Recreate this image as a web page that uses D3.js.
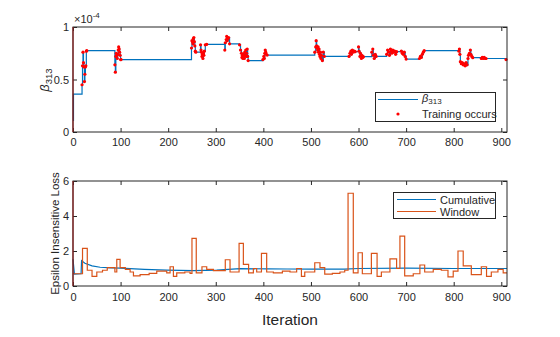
<!DOCTYPE html>
<html lang="en">
<head>
<meta charset="UTF-8">
<title>beta313 and loss</title>
<script src="https://cdn.jsdelivr.net/npm/d3@7"></script>
<style>
  body { margin: 0; background: #fff; }
  svg text { font-family: "Liberation Sans", Arial, sans-serif; fill: #262626; }
</style>
</head>
<body>
<svg width="560" height="337"></svg>
<script>
// beta_313 values (x1e-4) at each training event
const trainIter = [19,20,21,22,23,24,25,26,27,28,29,
  88,89,90,91,92,93,94,95,96,97,98,99,100,101,
  249,250,251,252,253,254,255,256,257,258,
  268,269,270,271,272,273,274,275,276,278,281,
  319,320,322,323,324,326,327,329,
  350,352,354,355,356,357,358,359,360,361,362,363,364,365,366,367,368,
  399,401,402,403,404,405,406,408,
  508,510,511,512,513,514,515,516,517,518,519,520,521,522,524,526,528,
  580,582,584,585,587,589,591,593,
  600,601,603,604,606,607,609,610,
  628,630,631,633,635,637,
  659,661,663,665,667,668,670,672,674,676,678,680,
  690,692,694,696,698,700,
  728,730,732,734,736,738,
  811,812,813,814,816,818,820,822,824,826,828,830,831,833,835,836,838,840,
  858,860,862,864,866,868,
  910];
const trainBeta = [0.45,0.63,0.76,0.66,0.62,0.48,0.55,0.62,0.63,0.77,0.775,
  0.64,0.57,0.72,0.75,0.73,0.70,0.74,0.78,0.81,0.79,0.76,0.73,0.69,0.69,
  0.80,0.87,0.86,0.84,0.89,0.90,0.86,0.82,0.77,0.76,
  0.83,0.78,0.76,0.72,0.74,0.70,0.75,0.73,0.77,0.83,0.835,
  0.78,0.85,0.88,0.91,0.87,0.89,0.90,0.84,
  0.83,0.78,0.75,0.71,0.73,0.70,0.74,0.72,0.70,0.76,0.73,0.78,0.72,0.75,0.79,0.72,0.68,
  0.69,0.72,0.70,0.75,0.78,0.76,0.74,0.733,
  0.76,0.81,0.87,0.82,0.80,0.78,0.81,0.76,0.79,0.74,0.72,0.76,0.70,0.73,0.68,0.76,0.72,
  0.72,0.75,0.77,0.74,0.78,0.76,0.77,0.765,
  0.81,0.77,0.72,0.75,0.70,0.73,0.71,0.717,
  0.76,0.79,0.73,0.70,0.74,0.72,
  0.74,0.78,0.76,0.73,0.79,0.77,0.75,0.78,0.76,0.77,0.74,0.765,
  0.77,0.75,0.74,0.76,0.72,0.695,
  0.70,0.72,0.71,0.74,0.76,0.775,
  0.77,0.79,0.74,0.67,0.65,0.66,0.64,0.65,0.63,0.66,0.64,0.70,0.73,0.75,0.78,0.74,0.72,0.708,
  0.70,0.71,0.70,0.71,0.70,0.70,
  0.69];
// values before the first training event
const startIter = [0, 1];
const startBeta = [0.11, 0.36];

// cumulative loss
const cumIter = [0,3,17,18,25,40,57,80,100,150,197,253,302,351,407,450,500,570,600,700,800,912];
const cumLoss = [1.53,0.68,0.7,1.45,1.3,1.15,1.07,1.04,1.02,0.95,0.91,0.88,0.91,0.99,0.98,0.97,0.97,0.96,1.0,1.02,1.0,1.0];

// windowed loss, level held from each start iteration
const winIter = [0,20,30,40,50,62,72,88,92,99,110,120,127,141,160,176,197,204,211,218,235,246,250,259,271,281,295,320,330,349,358,369,379,386,396,407,421,440,456,470,480,487,508,519,529,545,561,571,578,589,599,608,627,639,648,666,680,687,697,715,729,739,757,774,788,799,809,820,837,858,869,879,893,904,912];
const winLoss = [0.7,2.15,0.9,0.55,0.8,0.9,1.05,0.8,1.52,1.05,0.95,0.8,0.58,0.65,0.72,0.85,0.75,1.1,0.55,0.75,0.8,0.72,2.72,0.75,1.1,0.95,0.88,1.5,0.8,2.44,1.24,0.75,1.0,0.8,1.87,0.8,0.75,0.85,0.8,1.0,0.55,0.8,1.33,1.05,0.68,0.72,0.8,0.9,5.3,0.75,1.9,0.7,1.86,0.55,0.8,1.55,1.0,2.85,0.58,0.7,1.2,0.8,0.95,0.9,0.52,0.85,2.0,1.15,0.65,1.1,0.55,0.8,0.95,0.75,0.75];

const xTicks = [0,100,200,300,400,500,600,700,800,900];
const topTicks = [0, 0.5, 1];
const botTicks = [0, 2, 4, 6];

const blue = "#0072BD", orange = "#D95319", axisCol = "#262626";
const svg = d3.select("svg");

const x = d3.scaleLinear().domain([0, 912]).range([73, 507]);
const yTop = d3.scaleLinear().domain([0, 1]).range([132, 27]);
const yBot = d3.scaleLinear().domain([0, 6]).range([286, 181]);

function panel(y, yTicks, yFmt, pad) {
  const [b, t] = y.range();
  const g = svg.append("g");
  const bottom = g.append("g").attr("transform", `translate(0,${b})`)
    .call(d3.axisBottom(x).tickValues(xTicks).tickSize(-4).tickPadding(pad));
  g.append("g").attr("transform", `translate(0,${t})`)
    .call(d3.axisTop(x).tickValues(xTicks).tickSize(-4).tickFormat(""));
  g.append("g").attr("transform", "translate(73,0)")
    .call(d3.axisLeft(y).tickValues(yTicks).tickSize(-4).tickPadding(4).tickFormat(yFmt));
  g.append("g").attr("transform", "translate(507,0)")
    .call(d3.axisRight(y).tickValues(yTicks).tickSize(-4).tickFormat(""));
  g.selectAll(".domain").remove();
  g.selectAll(".tick line").attr("stroke", axisCol);
  g.selectAll(".tick text").attr("font-size", 11).attr("font-family", null);
  return g;
}

function frame(y) {
  const [b, t] = y.range();
  svg.append("rect").attr("x", 73).attr("y", t).attr("width", 434).attr("height", b - t)
    .attr("fill", "none").attr("stroke", axisCol).attr("stroke-width", 1);
  // red trace along iteration 0
  svg.append("line").attr("x1", 73).attr("x2", 73).attr("y1", t).attr("y2", b)
    .attr("stroke", "#8a1f1f").attr("stroke-width", 1.2);
}

// ---- top panel ----
panel(yTop, topTicks, d => d === 0 ? "0" : d === 1 ? "1" : "0.5", 6);

const betaPts = startIter.map((d, i) => [d, startBeta[i]])
  .concat(trainIter.map((d, i) => [d, trainBeta[i]]));
svg.append("path").datum(betaPts)
  .attr("fill", "none").attr("stroke", blue).attr("stroke-width", 1.2)
  .attr("d", d3.line().x(d => x(d[0])).y(d => yTop(d[1])).curve(d3.curveStepAfter));
svg.append("g").selectAll("circle")
  .data(trainIter.map((d, i) => [d, trainBeta[i]]))
  .join("circle")
  .attr("cx", d => x(d[0])).attr("cy", d => yTop(d[1])).attr("r", 1.6)
  .attr("fill", "#ff0000");
frame(yTop);

const mult = svg.append("text").attr("x", 74).attr("y", 23).attr("font-size", 11);
mult.append("tspan").text("×10");
mult.append("tspan").attr("dy", -5).attr("font-size", 8).text("-4");

const yl1 = svg.append("text").attr("transform", "translate(49,80) rotate(-90)")
  .attr("text-anchor", "middle").attr("font-size", 13);
yl1.append("tspan").attr("font-style", "italic").text("β");
yl1.append("tspan").attr("dy", 3).attr("font-size", 9.5).text("313");

// top legend
const lg1 = svg.append("g");
lg1.append("rect").attr("x", 375.5).attr("y", 92.5).attr("width", 120).attr("height", 29)
  .attr("fill", "#fff").attr("stroke", axisCol);
lg1.append("line").attr("x1", 378).attr("x2", 418).attr("y1", 99.5).attr("y2", 99.5)
  .attr("stroke", blue).attr("stroke-width", 1.2);
const lt1 = lg1.append("text").attr("x", 422).attr("y", 102).attr("font-size", 11);
lt1.append("tspan").attr("font-style", "italic").text("β");
lt1.append("tspan").attr("dy", 2).attr("font-size", 8).text("313");
lg1.append("circle").attr("cx", 398).attr("cy", 114).attr("r", 1.6).attr("fill", "#ff0000");
lg1.append("text").attr("x", 422).attr("y", 118).attr("font-size", 11).text("Training occurs");

// ---- bottom panel ----
panel(yBot, botTicks, d3.format("d"), 7);

svg.append("path").datum(cumIter.map((d, i) => [d, cumLoss[i]]))
  .attr("fill", "none").attr("stroke", blue).attr("stroke-width", 1.2)
  .attr("d", d3.line().x(d => x(d[0])).y(d => yBot(d[1])));
svg.append("path").datum(winIter.map((d, i) => [d, winLoss[i]]))
  .attr("fill", "none").attr("stroke", orange).attr("stroke-width", 1.2)
  .attr("d", d3.line().x(d => x(d[0])).y(d => yBot(d[1])).curve(d3.curveStepAfter));
frame(yBot);

svg.append("text").attr("transform", "translate(59,233.5) rotate(-90)")
  .attr("text-anchor", "middle").attr("font-size", 11.5).text("Epsilon Insensitive Loss");
svg.append("text").attr("x", 290).attr("y", 325).attr("text-anchor", "middle")
  .attr("font-size", 15.5).text("Iteration");

// bottom legend
const lg2 = svg.append("g");
lg2.append("rect").attr("x", 393.5).attr("y", 192.5).attr("width", 102).attr("height", 26)
  .attr("fill", "#fff").attr("stroke", axisCol);
lg2.append("line").attr("x1", 397).attr("x2", 436).attr("y1", 199.5).attr("y2", 199.5)
  .attr("stroke", blue).attr("stroke-width", 1.2);
lg2.append("line").attr("x1", 397).attr("x2", 436).attr("y1", 211.5).attr("y2", 211.5)
  .attr("stroke", orange).attr("stroke-width", 1.2);
lg2.append("text").attr("x", 440).attr("y", 203.5).attr("font-size", 11).text("Cumulative");
lg2.append("text").attr("x", 440).attr("y", 215.5).attr("font-size", 11).text("Window");
</script>
</body>
</html>
